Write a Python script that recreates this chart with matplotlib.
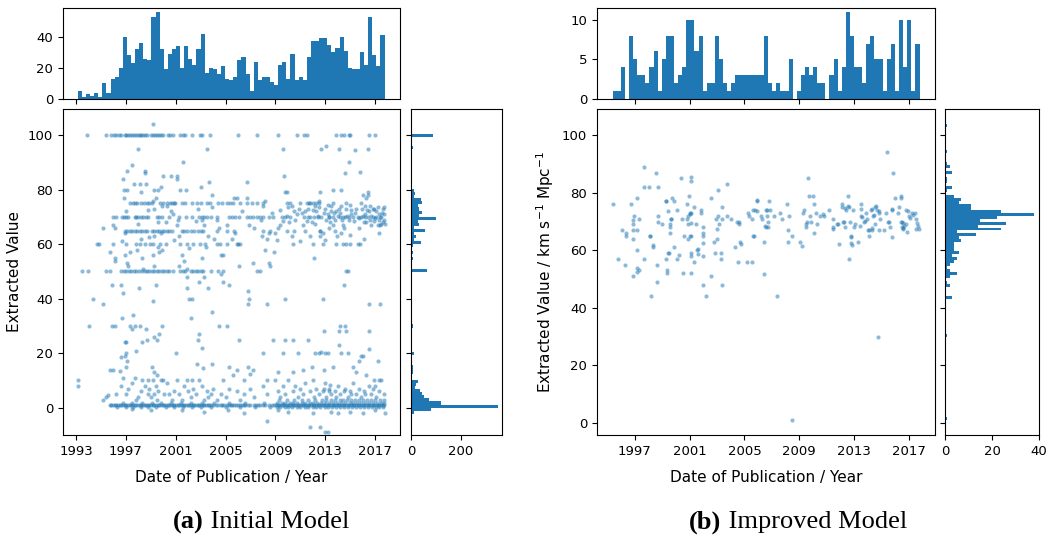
import numpy as np
import matplotlib
matplotlib.use("Agg")
import matplotlib.pyplot as plt

# ---------------- data: (a) Initial Model ----------------
a_row100_x = [1993.85, 1995.4, 1995.85, 1996.05, 1996.25, 1996.45, 1996.65, 1996.9, 1997.05, 1997.2,
              1997.35, 1997.5, 1997.65, 1997.8, 1997.95, 1998.1, 1998.25, 1998.4, 1998.55, 1998.7,
              1999.05, 1999.2, 1999.35, 1999.5, 1999.65, 1999.8, 1999.95, 2000.35, 2000.55, 2000.8,
              2001.35, 2001.55, 2001.75, 2002.35, 2002.95, 2003.15, 2003.75, 2006.0, 2007.5, 2009.25,
              2010.7, 2011.3, 2011.5, 2013.85, 2014.3, 2014.5, 2014.9, 2015.0, 2016.5, 2017.0]
a_row75_x = [1997.35, 1997.55, 1997.75, 1997.9, 1998.2, 1998.45, 1998.7, 1998.9, 1999.1, 1999.75,
             2000.0, 2000.3, 2000.55, 2000.7, 2000.85, 2000.95, 2001.5, 2001.75, 2002.3, 2002.7,
             2003.0, 2003.5, 2003.75, 2004.4, 2004.7, 2005.1, 2005.35, 2005.6, 2006.15, 2006.7,
             2007.1, 2007.5, 2008.0, 2009.9, 2010.2, 2011.0, 2011.5, 2011.8, 2012.3, 2012.5,
             2013.65, 2014.7, 2015.9]
a_row70_x = [1996.0, 1996.2, 1996.7, 1996.85, 1997.0, 1997.15, 1997.7, 1997.85, 1998.0, 1998.2,
             1998.4, 1998.6, 1998.8, 1999.5, 1999.7, 1999.9, 2000.5, 2001.3, 2001.8, 2002.3,
             2002.9, 2003.1, 2003.3, 2003.5, 2003.8, 2004.3, 2005.3, 2005.55, 2005.8, 2006.1,
             2006.7, 2006.95, 2007.2, 2007.5, 2007.8, 2008.0, 2008.5, 2008.8, 2009.5, 2009.8,
             2010.2, 2011.6, 2011.8, 2012.1, 2012.4, 2012.7, 2013.3, 2013.6, 2014.2, 2014.4,
             2014.6, 2014.9, 2015.6, 2015.9, 2016.2, 2016.4, 2016.8, 2017.1, 2017.4]
a_row65_x = [1996.9, 1997.1, 1997.3, 1997.5, 1997.7, 1997.9, 1998.1, 1998.3, 1998.5, 1998.7,
             1999.1, 1999.3, 1999.5, 1999.7, 1999.9, 2000.1, 2000.3, 2000.5, 2000.7, 2001.5,
             2001.7, 2001.9, 2002.2, 2002.5, 2002.8, 2003.0, 2003.2, 2004.3, 2005.1, 2005.7,
             2008.0, 2008.6, 2009.9, 2010.5, 2011.4, 2012.6, 2013.8]
a_row60_x = [1994.65, 1994.85, 1995.95, 1997.05, 1997.85, 1998.1, 1998.5, 1998.95, 1999.2, 1999.75,
             2000.25, 2001.35, 2001.9, 2002.4, 2002.95, 2003.35, 2004.3, 2004.55, 2005.1, 2006.0,
             2006.15, 2010.45, 2012.05, 2012.85, 2013.9, 2014.45, 2015.0, 2015.8]
a_row50_x = [1993.5, 1994.0, 1995.4, 1995.7, 1996.65, 1996.85, 1997.05, 1997.25, 1997.45, 1997.65,
             1997.85, 1998.05, 1998.3, 1998.5, 1998.7, 1998.9, 1999.1, 1999.3, 1999.5, 1999.7,
             1999.9, 2000.1, 2000.3, 2000.5, 2000.8, 2001.35, 2001.55, 2001.75, 2002.2, 2002.4,
             2002.6, 2002.8, 2003.0, 2003.2, 2003.8, 2004.4, 2004.8, 2007.75, 2014.65]
a_mid_pts = [(1999.15, 104), (1998.0, 95), (2003.5, 95), (2009.6, 95), (2012.7, 95), (2013.05, 96),
             (2014.1, 95), (2015.4, 94.5), (2016.45, 95),
             (1995.2, 66), (1995.75, 57), (1996.0, 67), (1996.15, 66), (1996.15, 55), (1996.15, 54),
             (1995.9, 45), (1996.65, 45), (1996.8, 42), (1996.7, 61), (1996.75, 84), (1996.85, 80),
             (1997.1, 80), (1996.85, 77), (1997.05, 72), (1996.9, 64), (1996.95, 56), (1997.1, 53),
             (1997.2, 52), (1997.3, 57), (1997.5, 89), (1997.1, 87), (1998.5, 87), (1998.55, 86),
             (1997.65, 82), (1998.1, 82), (1998.6, 82), (1998.2, 79), (1998.25, 62), (1998.3, 55),
             (1998.35, 51), (1998.05, 44), (1999.3, 80), (1999.6, 80), (1999.8, 81), (1999.15, 76),
             (1999.4, 77), (1999.9, 74), (1999.3, 73), (1999.6, 68), (1999.8, 64), (1999.3, 63),
             (1999.55, 59), (1999.65, 57), (1999.9, 58), (1999.2, 56), (1999.3, 52), (1999.45, 45),
             (1999.2, 39), (2000.0, 85), (2000.6, 85), (2001.1, 85), (2001.1, 84), (2001.55, 90),
             (2001.35, 80), (2001.8, 80), (2000.3, 74), (2000.6, 72), (2000.8, 71), (2001.1, 67),
             (2001.3, 63), (2001.5, 56), (2001.7, 54), (2001.3, 52), (2001.9, 51), (2001.9, 48),
             (2001.9, 44), (2002.1, 40), (2002.3, 40), (2003.0, 81), (2003.7, 83), (2003.9, 78),
             (2002.8, 73), (2003.1, 69), (2003.3, 67), (2003.6, 63), (2003.4, 59), (2003.1, 55),
             (2002.9, 46), (2003.3, 48), (2003.6, 44), (2004.3, 69), (2004.5, 66), (2004.1, 62),
             (2004.6, 56), (2004.8, 56), (2004.6, 49), (2004.8, 46), (2005.3, 45), (2005.1, 67),
             (2005.5, 62), (2005.7, 77), (2005.95, 77), (2005.8, 64), (2005.9, 60), (2006.1, 52),
             (2006.7, 83), (2006.75, 77), (2006.3, 72), (2006.9, 67), (2006.8, 43), (2006.85, 40),
             (2006.8, 38), (2007.2, 53), (2007.5, 50), (2008.2, 76), (2008.0, 74), (2007.85, 69),
             (2007.9, 63), (2008.3, 62), (2008.2, 58), (2008.5, 53), (2008.55, 52), (2008.3, 38),
             (2008.5, 64), (2009.0, 64), (2008.9, 57), (2009.7, 85), (2009.75, 79), (2009.95, 79),
             (2009.2, 66), (2009.4, 67), (2009.8, 40), (2010.3, 74), (2010.5, 72), (2010.7, 71),
             (2011.3, 70), (2011.6, 73), (2011.2, 67), (2011.0, 61), (2011.7, 75), (2012.0, 75),
             (2012.2, 74), (2012.5, 76), (2012.6, 79), (2012.3, 72), (2011.9, 68), (2012.1, 55),
             (2012.6, 65), (2012.6, 63), (2012.8, 64), (2012.8, 40), (2013.0, 73), (2013.2, 71),
             (2013.3, 70), (2013.4, 68), (2013.6, 67), (2013.3, 66), (2013.65, 80), (2013.5, 74),
             (2013.9, 72), (2014.1, 73), (2014.3, 80), (2014.3, 74), (2014.4, 67), (2014.5, 66),
             (2014.3, 64), (2014.6, 86), (2014.9, 90), (2014.7, 60), (2014.8, 50), (2014.5, 45),
             (2014.9, 69), (2015.2, 70), (2015.1, 71), (2015.5, 73), (2015.8, 86.5), (2015.7, 66),
             (2015.6, 60), (2016.0, 78), (2016.2, 74), (2016.4, 79), (2016.45, 78), (2016.3, 77),
             (2016.2, 71), (2016.5, 72), (2016.6, 69), (2016.7, 67), (2016.8, 73), (2016.9, 73),
             (2017.1, 72), (2017.3, 71), (2017.5, 70), (2017.6, 68), (2017.2, 67), (2017.4, 67),
             (2017.5, 67.5), (2016.5, 38), (2017.4, 38), (2016.3, 68), (2012.4, 70.5), (2013.1, 69),
             (2013.7, 71.5), (2014.0, 70.5), (2015.3, 68.5), (2015.0, 74.5), (2016.0, 70.5),
             (2016.6, 74), (2017.0, 69.5), (2017.6, 73), (2017.7, 71), (2017.8, 67.5), (2010.9, 73),
             (2011.4, 72), (2009.9, 70.5), (2010.1, 68),
             (2009.35, 72.5), (2009.6, 68.5), (2010.0, 73.5), (2010.6, 69), (2011.1, 71.5),
             (2011.5, 68.5), (2012.0, 72.5), (2012.2, 67.5), (2012.5, 73.5), (2012.9, 71.5),
             (2013.2, 74.5), (2013.45, 72), (2013.8, 69), (2014.15, 71.5), (2014.35, 69),
             (2014.7, 73), (2014.75, 70.5), (2015.05, 72.5), (2015.4, 71.5), (2015.7, 69.5),
             (2015.95, 73), (2016.15, 68), (2016.35, 72.5), (2016.7, 70.5), (2016.95, 68.5),
             (2017.2, 73.5), (2017.35, 69), (2017.55, 71.5), (2017.7, 69), (2017.75, 73.5),
             (2011.75, 63), (2012.95, 61.5), (2013.95, 63), (2014.95, 63.5), (2016.1, 62),
             (2017.3, 64), (2009.1, 61.5), (2010.3, 63), (2008.7, 71.5), (2007.3, 66),
             (2001.2, 69), (2000.2, 68), (1998.8, 72.5), (1998.0, 67.5), (2002.6, 68.5),
             (2003.9, 73.5), (2000.9, 61.5), (2002.1, 58.5), (1997.9, 58), (1998.9, 62.5)]
a_low_pts = [(1993.2, 10), (1993.2, 8), (1994.05, 30), (1994.4, 40), (1995.2, 38), (1995.75, 14),
             (1995.9, 30), (1996.15, 30), (1996.0, 14), (1996.5, 13.5), (1996.6, 18.5), (1996.7, 33),
             (1996.9, 24), (1997.0, 24), (1997.0, 20), (1996.95, 19), (1997.1, 17), (1997.0, 15),
             (1997.3, 30), (1997.5, 29), (1997.7, 30), (1997.6, 34), (1997.8, 21), (1997.7, 11),
             (1998.1, 30), (1998.3, 24), (1998.7, 25), (1998.6, 29), (1998.8, 10), (1999.3, 26),
             (1999.5, 25), (1999.7, 27), (1999.9, 30), (1999.1, 15), (1999.3, 13), (1999.5, 12),
             (2000.0, 10), (2001.0, 20), (2001.9, 10), (2002.3, 10), (2002.2, 33), (2002.8, 25),
             (2002.9, 27), (2002.7, 16), (2003.1, 22), (2003.2, 14.5), (2003.9, 16), (2003.9, 35),
             (2004.5, 30), (2005.1, 30), (2005.3, 15), (2005.6, 12), (2005.9, 14), (2006.1, 25),
             (2006.5, 10), (2006.8, 15), (2007.0, 12.5), (2007.2, 14), (2008.0, 20), (2008.3, 10),
             (2008.8, 25), (2009.2, 13), (2009.6, 20), (2009.8, 25), (2010.4, 13), (2010.4, 25),
             (2010.8, 20), (2011.2, 14), (2011.6, 25), (2011.9, 15), (2012.2, 20), (2012.5, 20),
             (2012.7, 20.5), (2012.9, 28), (2012.9, 14), (2013.0, 20), (2013.2, 20), (2013.4, 8.5),
             (2013.6, 15), (2014.2, 30), (2014.1, 28), (2014.1, 23), (2014.3, 20), (2014.6, 30),
             (2014.7, 28), (2014.8, 20), (2015.2, 15), (2015.5, 13), (2015.7, 17), (2015.9, 19),
             (2016.0, 19), (2016.3, 12), (2016.5, 21.5), (2016.5, 28), (2017.2, 17), (2017.3, 10),
             (1995.2, 3), (1995.4, 4), (1995.6, 4.5), (1996.25, 5), (1996.6, 8), (1996.8, 11),
             (1997.0, 5), (1997.2, 7), (1997.5, 9), (1997.8, 3), (1998.0, 4), (1998.2, 6),
             (1998.3, 10), (1998.5, 8), (1998.8, 5), (1998.9, 7), (1999.0, 4), (1999.2, 10),
             (1999.3, 5), (1999.4, 8), (1999.5, 3), (1999.6, 6), (1999.8, 10), (2000.1, 5),
             (2000.3, 9), (2000.5, 5), (2000.7, 3), (2000.9, 6), (2001.1, 10), (2001.3, 5),
             (2001.5, 3), (2001.7, 8), (2002.0, 6), (2002.2, 4), (2002.4, 7), (2002.6, 5),
             (2002.9, 10), (2003.1, 8), (2003.3, 3), (2003.5, 6), (2003.6, 4), (2003.8, 5),
             (2004.0, 7), (2004.3, 3), (2004.6, 5), (2004.8, 10), (2005.0, 4), (2005.3, 7),
             (2005.9, 6), (2006.2, 3), (2006.5, 5), (2007.0, 7), (2007.3, 4), (2008.0, 8),
             (2008.3, 5), (2009.0, 10), (2009.2, 6), (2009.4, 4), (2009.6, 8), (2009.8, 5),
             (2010.0, 10), (2010.4, 6), (2010.6, 8), (2010.8, 4), (2011.0, 7), (2011.2, 5),
             (2011.4, 9), (2011.8, 6), (2012.0, 10), (2012.1, 4), (2012.3, 7), (2012.5, 5),
             (2012.8, 6), (2013.0, 9), (2013.1, 4), (2013.3, 7), (2013.5, 5), (2013.8, 6),
             (2014.0, 8), (2014.2, 5), (2014.6, 7), (2014.8, 4), (2015.0, 6), (2015.2, 9),
             (2015.5, 5), (2015.7, 7), (2015.9, 4), (2016.1, 6), (2016.5, 8), (2016.7, 5),
             (2016.9, 10), (2017.1, 4), (2017.3, 6), (2017.5, 10), (2017.7, 5), (2013.3, 6),
             (2012.9, 7), (2013.9, 4), (2014.5, 6), (2015.1, 5), (2016.2, 5), (2016.8, 7), (2017.0, 8)]
a_base1_x = [1995.7, 1995.85, 1996.0, 1996.1, 1996.25, 1996.4, 1996.5, 1996.65, 1996.8, 1996.9,
             1997.05, 1997.2, 1997.3, 1997.45, 1997.6, 1997.7, 1997.85, 1998.0, 1998.1, 1998.25,
             1998.4, 1998.5, 1998.65, 1998.8, 1998.9, 1999.05, 1999.2, 1999.3, 1999.45, 1999.6,
             1999.7, 1999.85, 2000.0, 2000.1, 2000.25, 2000.4, 2000.5, 2000.65, 2000.8, 2000.9,
             2001.05, 2001.2, 2001.3, 2001.45, 2001.6, 2001.7, 2001.85, 2002.0, 2002.1, 2002.25,
             2002.4, 2002.5, 2002.65, 2002.8, 2002.9, 2003.05, 2003.2, 2003.3, 2003.45, 2003.6,
             2003.7, 2003.85, 2004.0, 2004.2, 2004.4, 2004.6, 2004.75, 2004.9, 2005.1, 2005.25,
             2005.4, 2005.55, 2005.7, 2005.85, 2006.0, 2006.15, 2006.3, 2006.45, 2006.6, 2006.8,
             2007.0, 2007.25, 2007.45, 2007.6, 2007.8, 2008.0, 2008.2, 2008.45, 2008.7, 2008.9,
             2009.05, 2009.2, 2009.3, 2009.45, 2009.6, 2009.7, 2009.85, 2010.0, 2010.1, 2010.25,
             2010.4, 2010.5, 2010.65, 2010.8, 2010.9, 2011.05, 2011.2, 2011.3, 2011.45, 2011.6,
             2011.7, 2011.85, 2012.0, 2012.1, 2012.25, 2012.4, 2012.5, 2012.65, 2012.8, 2012.9,
             2013.05, 2013.2, 2013.3, 2013.45, 2013.6, 2013.7, 2013.85, 2014.0, 2014.1, 2014.25,
             2014.4, 2014.5, 2014.65, 2014.8, 2014.9, 2015.05, 2015.2, 2015.3, 2015.45, 2015.6,
             2015.7, 2015.85, 2016.0, 2016.1, 2016.25, 2016.4, 2016.5, 2016.65, 2016.8, 2016.9,
             2017.05, 2017.2, 2017.3, 2017.45, 2017.6, 2017.7]
a_base0_x = [1996.3, 1997.0, 1997.6, 1998.2, 1998.8, 1999.4, 2000.2, 2000.9, 2001.6, 2002.3,
             2003.0, 2003.8, 2005.0, 2006.2, 2007.4, 2008.6, 2009.1, 2009.4, 2009.75, 2010.05,
             2010.35, 2010.7, 2011.0, 2011.35, 2011.65, 2012.0, 2012.3, 2012.6, 2012.95, 2013.25,
             2013.55, 2013.9, 2014.2, 2014.5, 2014.85, 2015.15, 2015.45, 2015.8, 2016.1, 2016.4,
             2016.75, 2017.05, 2017.35, 2017.65]
a_base2_x = [1996.8, 1997.5, 1998.3, 1999.1, 1999.8, 2000.6, 2001.4, 2002.2, 2003.1, 2004.1,
             2005.3, 2006.6, 2008.1, 2009.15, 2009.5, 2009.8, 2010.15, 2010.45, 2010.75, 2011.1,
             2011.4, 2011.75, 2012.05, 2012.35, 2012.7, 2013.0, 2013.3, 2013.65, 2013.95, 2014.3,
             2014.6, 2014.95, 2015.25, 2015.55, 2015.9, 2016.2, 2016.55, 2016.85, 2017.15, 2017.5,
             2017.75]
a_base3_x = [2009.3, 2009.9, 2010.5, 2011.1, 2011.6, 2012.2, 2012.75, 2013.1, 2013.5, 2013.8,
             2014.15, 2014.45, 2014.75, 2015.1, 2015.4, 2015.7, 2016.05, 2016.35, 2016.7, 2017.0,
             2017.4, 2017.7]
a_neg_pts = [(1997.5, -0.5), (1999.0, -1), (2001.5, -1), (2003.3, -1.5), (2005.2, -1), (2006.5, -2),
             (2008.3, -5), (2009.2, -1), (2010.0, -1.5), (2011.8, -7), (2012.6, -7), (2013.0, -9),
             (2013.2, -9), (2014.0, -2), (2015.0, -1.5), (2016.0, -2), (2017.0, -1), (2017.8, -2),
             (2012.0, -2), (2013.5, -1.5)]

# top histogram (publication date), 75 bins
a_year_range = (1993.15, 2017.76)
a_year_counts = [5, 1, 3, 2, 4, 1, 10, 4, 13, 14, 20, 40, 28, 23, 32, 36, 26, 25, 53, 56,
                 32, 19, 29, 32, 34, 20, 34, 26, 22, 32, 42, 17, 20, 19, 16, 21, 13, 12, 14, 25,
                 27, 16, 5, 24, 12, 14, 14, 11, 9, 22, 24, 13, 29, 12, 14, 12, 27, 37, 37, 39,
                 39, 35, 30, 33, 40, 31, 20, 19, 19, 30, 22, 53, 28, 21, 41]
# right histogram (value), 100 bins
a_val_range = (-9.0, 104.0)
a_val_counts = [2, 1, 1, 2, 3, 4, 13, 81, 350, 120, 71, 51, 44, 37, 17, 21, 28, 5, 6, 8,
                10, 8, 5, 4, 6, 13, 4, 3, 4, 3, 5, 2, 3, 3, 8, 2, 1, 2, 2, 1,
                1, 1, 2, 3, 2, 3, 3, 3, 2, 3, 4, 3, 64, 4, 3, 5, 10, 5, 8, 4,
                8, 40, 11, 21, 13, 55, 13, 33, 30, 100, 31, 44, 31, 27, 44, 40, 11, 16, 13, 5,
                4, 3, 3, 2, 2, 4, 2, 2, 1, 2, 1, 1, 8, 1, 1, 0, 88, 0, 0, 1]

# ---------------- data: (b) Improved Model ----------------
b_pts = [(1995.45, 76), (1995.75, 57), (1996.1, 67), (1996.27, 55), (1996.35, 66), (1996.35, 65),
         (1996.75, 76), (1996.85, 70.5), (1996.85, 69), (1996.85, 67), (1996.85, 64), (1996.9, 51),
         (1996.95, 72), (1997.15, 78), (1997.15, 67), (1997.15, 60), (1997.2, 54), (1997.2, 52.3),
         (1997.3, 53), (1997.3, 71), (1997.65, 89), (1997.65, 82), (1997.7, 57), (1998.05, 82),
         (1998.1, 65), (1998.15, 65), (1998.2, 44), (1998.3, 62), (1998.3, 61), (1998.55, 87),
         (1998.6, 55), (1998.6, 49), (1998.7, 82), (1998.7, 72), (1998.7, 70), (1999.0, 69),
         (1999.25, 77), (1999.3, 77), (1999.3, 57), (1999.35, 53), (1999.35, 52), (1999.4, 59),
         (1999.5, 59), (1999.45, 73.7), (1999.55, 69), (1999.55, 68), (1999.6, 66), (1999.62, 71),
         (1999.67, 71), (1999.75, 78), (1999.85, 77), (1999.87, 61), (2000.05, 74), (2000.05, 57),
         (2000.2, 58.4), (2000.35, 85), (2000.45, 71), (2000.52, 52), (2000.6, 65), (2000.8, 71),
         (2000.85, 76), (2000.9, 69), (2000.9, 72), (2000.9, 64), (2000.95, 79), (2001.0, 72.5),
         (2001.05, 73), (2001.1, 72.8), (2001.05, 65), (2001.12, 65), (2001.1, 85.3), (2001.1, 84),
         (2001.1, 69.4), (2001.1, 59), (2001.1, 58), (2001.1, 52), (2001.3, 75), (2001.35, 56),
         (2001.5, 69), (2001.55, 60), (2001.6, 60.5), (2001.65, 58.6), (2001.85, 74), (2001.85, 73),
         (2002.0, 68), (2002.0, 66), (2002.0, 65), (2002.0, 62.7), (2002.0, 58), (2002.0, 48),
         (2002.2, 44), (2002.55, 78), (2002.55, 51), (2002.75, 63), (2002.85, 59), (2002.95, 71),
         (2003.0, 67.5), (2003.0, 64), (2003.05, 81), (2003.1, 72), (2003.15, 69), (2003.3, 59),
         (2003.3, 57), (2003.4, 75), (2003.4, 71), (2003.4, 48), (2003.7, 83), (2003.75, 72),
         (2004.0, 71), (2004.3, 61), (2004.45, 70), (2004.5, 56), (2004.6, 70), (2004.6, 69),
         (2004.7, 63), (2004.75, 62.3), (2005.2, 56), (2005.25, 73), (2005.3, 72), (2005.55, 56),
         (2005.55, 71), (2005.6, 65), (2005.67, 65), (2005.65, 74), (2005.75, 74), (2005.95, 77),
         (2005.95, 77.6), (2005.9, 73.7), (2006.2, 72), (2006.25, 71), (2006.45, 51.7),
         (2006.45, 63), (2006.5, 68.5), (2006.58, 68.2), (2006.6, 74), (2006.68, 74), (2006.65, 72),
         (2006.7, 70), (2006.75, 68), (2006.8, 77), (2006.9, 74), (2007.15, 72), (2007.4, 44),
         (2007.6, 73), (2007.75, 71), (2008.1, 76), (2008.25, 72), (2008.2, 67), (2008.2, 63),
         (2008.5, 65), (2008.5, 0.9), (2009.05, 63), (2009.2, 61.5), (2009.25, 73), (2009.35, 74),
         (2009.5, 68), (2009.52, 69), (2009.55, 70), (2009.65, 85), (2009.7, 79), (2009.75, 72),
         (2009.85, 70), (2010.0, 79), (2010.1, 76), (2010.1, 66), (2010.25, 73), (2010.3, 69),
         (2010.5, 72), (2010.75, 72.5), (2010.82, 72), (2011.2, 74), (2011.45, 71), (2011.45, 68),
         (2011.47, 67.5), (2011.75, 69), (2011.8, 69), (2011.9, 62.3), (2012.1, 76), (2012.15, 75),
         (2012.2, 70), (2012.25, 70), (2012.3, 74.6), (2012.38, 74), (2012.35, 68), (2012.55, 79),
         (2012.58, 75.5), (2012.65, 75), (2012.6, 57), (2012.7, 70), (2012.75, 65), (2012.8, 64.7),
         (2012.78, 62.5), (2012.82, 62), (2012.95, 74), (2013.0, 68), (2013.1, 69), (2013.25, 63),
         (2013.4, 68.4), (2013.5, 76), (2013.52, 74.5), (2013.5, 72), (2013.55, 71.6), (2013.7, 70),
         (2013.8, 70.3), (2013.9, 72.8), (2013.95, 70.8), (2014.0, 67), (2014.1, 67.2), (2014.1, 65),
         (2014.25, 74), (2014.3, 74.2), (2014.3, 67), (2014.33, 67.9), (2014.4, 72), (2014.45, 72.2),
         (2014.55, 75.2), (2014.6, 75.4), (2014.55, 69), (2014.7, 74), (2014.8, 73.8), (2014.75, 30),
         (2014.8, 72.8), (2014.85, 67), (2014.9, 70.7), (2015.2, 67), (2015.3, 73), (2015.4, 94.2),
         (2015.5, 70), (2015.58, 69.7), (2015.6, 68), (2015.75, 74.2), (2015.8, 74), (2015.8, 64.5),
         (2015.85, 87), (2016.0, 78), (2016.2, 73), (2016.25, 75), (2016.4, 79), (2016.4, 78.3),
         (2016.45, 70), (2016.5, 69.7), (2016.55, 69.5), (2016.5, 68), (2016.55, 67.7),
         (2016.6, 67.4), (2016.65, 68.5), (2016.75, 69.3), (2016.8, 74), (2016.9, 73.7),
         (2016.85, 66.4), (2017.0, 72), (2017.08, 71.3), (2017.25, 73), (2017.3, 72.2),
         (2017.45, 72.8), (2017.55, 70.7), (2017.6, 69.5), (2017.55, 67.5), (2017.65, 68.4),
         (2017.7, 67.3)]

b_year_range = (1995.39, 2017.77)
b_year_counts = [1, 1, 4, 0, 8, 5, 3, 3, 2, 4, 6, 1, 5, 8, 8, 2, 3, 4, 10, 10,
                 6, 8, 1, 2, 2, 8, 5, 2, 1, 2, 3, 3, 3, 3, 3, 3, 3, 8, 2, 1,
                 2, 1, 1, 5, 0, 1, 3, 4, 3, 4, 2, 2, 0, 3, 5, 1, 4, 11, 8, 4,
                 4, 2, 7, 8, 5, 5, 1, 5, 7, 1, 10, 4, 10, 1, 7]
b_val_range = (0.9, 104.0)
b_val_counts = [1, 0, 0, 0, 0, 0, 0, 0, 0, 0, 0, 0, 0, 0, 0, 0, 0, 0, 0, 0,
                0, 0, 0, 0, 0, 0, 0, 0, 1, 0, 0, 0, 0, 0, 0, 0, 0, 0, 0, 0,
                0, 3, 0, 0, 0, 2, 1, 0, 2, 5, 2, 1, 2, 4, 5, 3, 6, 4, 4, 4,
                7, 6, 13, 5, 24, 14, 26, 15, 22, 38, 24, 11, 11, 6, 7, 4, 0, 1, 3, 0,
                1, 1, 0, 3, 0, 2, 1, 0, 0, 0, 1, 0, 0, 0, 0, 0, 0, 0, 0, 1]

a_year_ticks = [1993, 1997, 2001, 2005, 2009, 2013, 2017]
b_year_ticks = [1997, 2001, 2005, 2009, 2013, 2017]

# ---------------- figure ----------------
W, H = 1051, 539
fig = plt.figure(figsize=(W / 100, H / 100), dpi=100)
blue = '#1f77b4'


def rect(x0, y0, x1, y1):
    return [x0 / W, 1 - y1 / H, (x1 - x0) / W, (y1 - y0) / H]


def unpack(pts):
    return [p[0] for p in pts], [p[1] for p in pts]


def panel(main_r, top_r, right_r, groups, yr_range, yr_counts, v_range, v_counts,
          xlim, ylim, xticks, ylabel, ytop_ticks, xright_ticks, xright_lim):
    ax = fig.add_axes(rect(*main_r))
    axt = fig.add_axes(rect(*top_r), sharex=ax)
    axr = fig.add_axes(rect(*right_r), sharey=ax)
    for xs, ys in groups:
        ax.scatter(xs, ys, s=9, color=blue, alpha=0.5, linewidths=0)
    e = np.linspace(yr_range[0], yr_range[1], len(yr_counts) + 1)
    axt.bar(e[:-1], yr_counts, width=np.diff(e), align='edge', color=blue, linewidth=0)
    ev = np.linspace(v_range[0], v_range[1], len(v_counts) + 1)
    axr.barh(ev[:-1], v_counts, height=np.diff(ev), align='edge', color=blue, linewidth=0)
    ax.set_xlim(*xlim)
    ax.set_ylim(*ylim)
    ax.set_xticks(xticks)
    ax.set_xticklabels([str(t) for t in xticks])
    ax.set_yticks([0, 20, 40, 60, 80, 100])
    ax.set_xlabel('Date of Publication / Year', fontsize=11, labelpad=9)
    ax.set_ylabel(ylabel, fontsize=11)
    axt.set_yticks(ytop_ticks)
    axt.tick_params(labelbottom=False)
    axr.tick_params(labelleft=False)
    axr.set_xticks(xright_ticks)
    axr.set_xlim(*xright_lim)
    for a in (ax, axt, axr):
        a.tick_params(labelsize=9.5)
    return ax


groups_a = [
    (a_row100_x, [100] * len(a_row100_x)),
    (a_row75_x, [75] * len(a_row75_x)),
    (a_row70_x, [70] * len(a_row70_x)),
    (a_row65_x, [65] * len(a_row65_x)),
    (a_row60_x, [60] * len(a_row60_x)),
    (a_row50_x, [50] * len(a_row50_x)),
    unpack(a_mid_pts),
    unpack(a_low_pts),
    (a_base1_x, [0.9] * len(a_base1_x)),
    (a_base0_x, [0.1] * len(a_base0_x)),
    (a_base2_x, [1.9] * len(a_base2_x)),
    (a_base3_x, [3.0] * len(a_base3_x)),
    unpack(a_neg_pts),
]
panel((63, 109, 400, 435), (63, 7.5, 400, 99), (411, 109, 502, 435), groups_a,
      a_year_range, a_year_counts, a_val_range, a_val_counts,
      (1991.96, 2019.0), (-10, 109.6), a_year_ticks, 'Extracted Value', [0, 20, 40], [0, 200], (0, 365))

groups_b = [unpack(b_pts)]
panel((597, 109, 935, 435), (597, 7.5, 935, 99), (945, 109, 1039, 435), groups_b,
      b_year_range, b_year_counts, b_val_range, b_val_counts,
      (1994.25, 2018.9), (-4.2, 109.1), b_year_ticks, r'Extracted Value / km s$^{-1}$ Mpc$^{-1}$',
      [0, 5, 10], [0, 20, 40], (0, 40))

# captions: bold "(a)" followed by regular text
renderer = fig.canvas.get_renderer()
for cx, tag, rest in [(261, '(a)', ' Initial Model'), (798, '(b)', ' Improved Model')]:
    t1 = fig.text(0, 1 - 522 / H, tag, fontsize=19, family='Liberation Serif',
                  fontweight='bold', va='center', ha='left')
    t2 = fig.text(0, 1 - 522 / H, rest, fontsize=19, family='Liberation Serif',
                  va='center', ha='left')
    w1 = t1.get_window_extent(renderer).width
    w2 = t2.get_window_extent(renderer).width
    x0 = cx - (w1 + w2) / 2
    t1.set_x(x0 / W)
    t2.set_x((x0 + w1) / W)

fig.savefig('out.png', dpi=100)
